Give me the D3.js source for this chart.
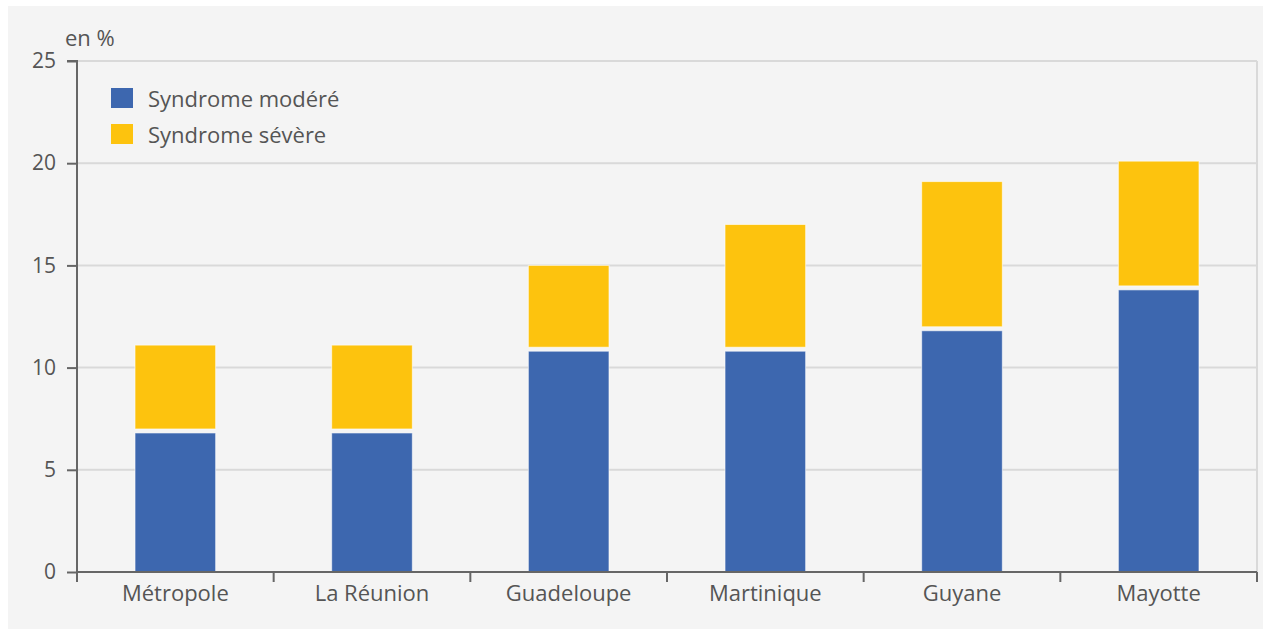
<!DOCTYPE html>
<html>
<head>
<meta charset="utf-8">
<script src="https://cdn.jsdelivr.net/npm/d3@7"></script>
<style>
  body { margin: 0; background: #fff; }
  text { font-family: "Open Sans", sans-serif; fill: #555; }
</style>
</head>
<body>
<svg></svg>
<script>
// data (en %)
var regions = ["Métropole", "La Réunion", "Guadeloupe", "Martinique", "Guyane", "Mayotte"];
var modere = [6.9, 6.9, 10.9, 10.9, 11.9, 13.9];
var severe = [4.2, 4.2, 4.1, 6.1, 7.2, 6.2];
var seriesNames = ["Syndrome modéré", "Syndrome sévère"];
var seriesKeys = ["modere", "severe"];
var colors = ["#3d67af", "#fdc30e"];
var yTicks = [0, 5, 10, 15, 20, 25];

var W = 1263, H = 629;
var plot = {left: 77, right: 1257, top: 61, bottom: 572};

var svg = d3.select("svg")
    .attr("width", W)
    .attr("height", H);

// grey panel
svg.append("rect")
    .attr("x", 8)
    .attr("y", 6)
    .attr("width", W - 8)
    .attr("height", H - 6)
    .attr("fill", "#f4f4f4");

var rows = regions.map(function(r, i) {
  return {region: r, modere: modere[i], severe: severe[i]};
});

var stacked = d3.stack().keys(seriesKeys)(rows);

var x = d3.scaleBand()
    .domain(regions)
    .range([plot.left, plot.right])
    .paddingInner(0.59)
    .paddingOuter(0.295);

var y = d3.scaleLinear()
    .domain([0, 25])
    .range([plot.bottom, plot.top]);

//Gridlines
svg.append("g")
  .selectAll("line")
  .data(yTicks.filter(function(d) { return d > 0; }))
  .enter()
  .append("line")
    .attr("x1", plot.left)
    .attr("x2", plot.right)
    .attr("y1", function(d) { return y(d); })
    .attr("y2", function(d) { return y(d); })
    .attr("stroke", "#d9d9d9")
    .attr("stroke-width", 2);

// right border of the plot
svg.append("line")
    .attr("x1", plot.right)
    .attr("x2", plot.right)
    .attr("y1", y(25))
    .attr("y2", y(0))
    .attr("stroke", "#d9d9d9")
    .attr("stroke-width", 2);

//Bars
var gap = 2;
svg.append("g")
  .selectAll("g")
  .data(stacked)
  .enter()
  .append("g")
    .attr("fill", function(d, i) { return colors[i]; })
  .selectAll("rect")
  .data(function(d) { return d; })
  .enter()
  .append("rect")
    .attr("x", function(d) { return x(d.data.region); })
    .attr("width", x.bandwidth())
    .attr("y", function(d) { return y(d[1]) + (d[0] > 0 ? 0 : gap); })
    .attr("height", function(d) {
      var top = y(d[1]) + (d[0] > 0 ? 0 : gap);
      var bottom = y(d[0]) - (d[0] > 0 ? gap : 0);
      return bottom - top;
    })
    .attr("stroke", "#fff")
    .attr("stroke-opacity", 0.6)
    .attr("stroke-width", 1);

//Y axis
var yAxis = d3.axisLeft(y)
    .tickValues(yTicks)
    .tickSize(10)
    .tickPadding(11);

var gy = svg.append("g")
    .attr("transform", "translate(" + plot.left + ",0)")
    .call(yAxis);
gy.select(".domain").attr("stroke", "#666").attr("stroke-width", 2)
    .attr("d", "M-10," + y(25) + "H0V" + y(0));
gy.selectAll(".tick line").attr("stroke", "#666").attr("stroke-width", 2);
gy.selectAll(".tick text")
    .style("font-size", "21px")
    .style("font-family", "'Open Sans', sans-serif")
    .attr("fill", "#555");

//X axis - labels in the middle, ticks between the categories
var xAxis = d3.axisBottom(x).tickSize(0).tickPadding(13);
var gx = svg.append("g")
    .attr("transform", "translate(0," + plot.bottom + ")")
    .call(xAxis);
gx.select(".domain").attr("stroke", "#666").attr("stroke-width", 2)
    .attr("d", "M" + plot.left + ",0H" + plot.right);
gx.selectAll(".tick text")
    .style("font-size", "22px")
    .style("font-family", "'Open Sans', sans-serif")
    .attr("fill", "#555");

var bounds = regions.map(function(r) {
  return x(r) - (x.step() - x.bandwidth()) / 2;
});
bounds.push(plot.right);
gx.append("g")
  .selectAll("line")
  .data(bounds)
  .enter()
  .append("line")
    .attr("x1", function(d) { return d; })
    .attr("x2", function(d) { return d; })
    .attr("y1", 0)
    .attr("y2", 10)
    .attr("stroke", "#666")
    .attr("stroke-width", 2);

// unit
svg.append("text")
    .attr("x", 65)
    .attr("y", 46)
    .style("font-size", "22px")
    .text("en %");

//Legend
var legend = svg.append("g")
  .selectAll("g")
  .data(seriesNames)
  .enter()
  .append("g")
    .attr("transform", function(d, i) { return "translate(111," + (88 + i * 36) + ")"; });

legend.append("rect")
    .attr("width", 22)
    .attr("height", 20)
    .attr("fill", function(d, i) { return colors[i]; });

legend.append("text")
    .attr("x", 37)
    .attr("y", 19)
    .style("font-size", "22px")
    .text(function(d) { return d; });
</script>
</body>
</html>
